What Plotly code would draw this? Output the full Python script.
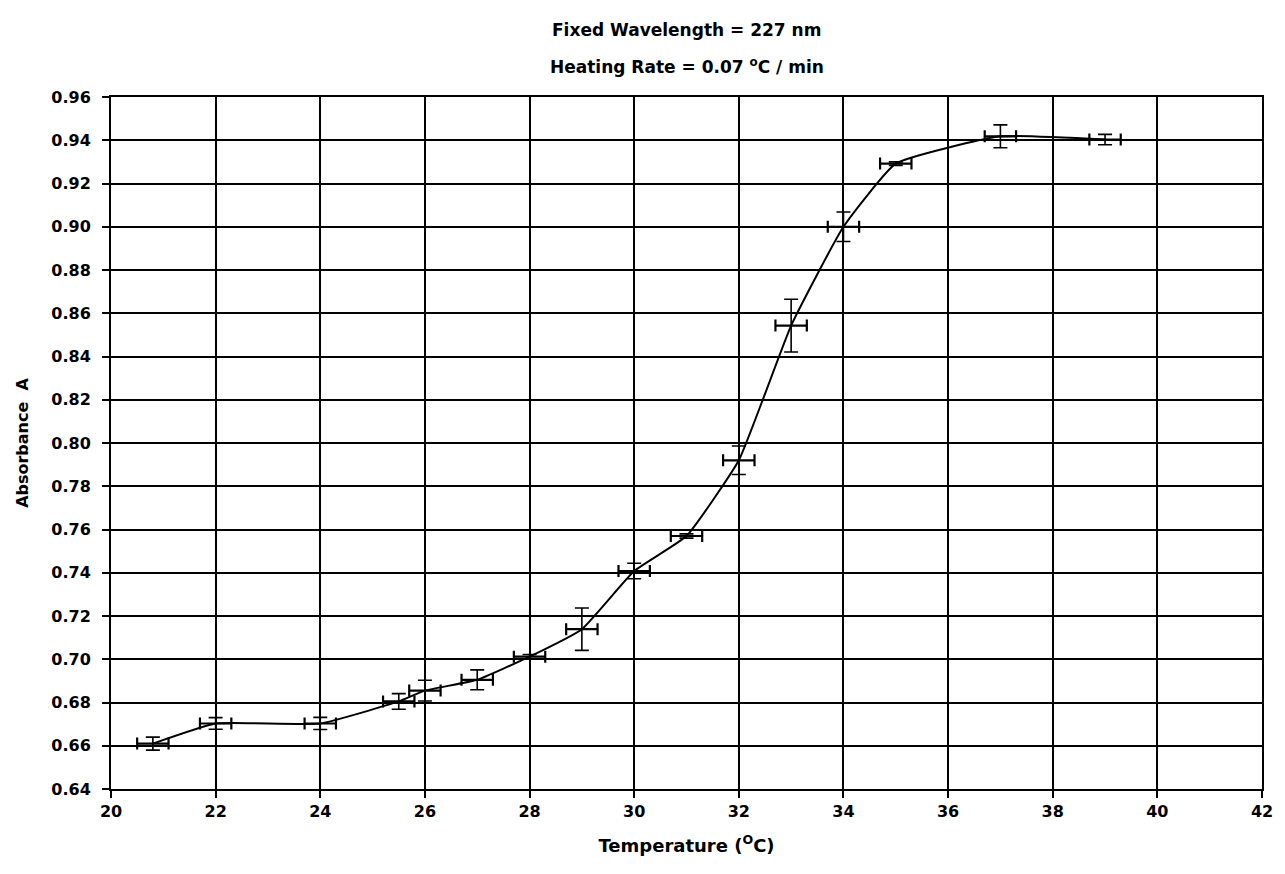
import plotly.graph_objects as go

temperature = [20.8, 22.0, 24.0, 25.5, 26.0, 27.0, 28.0, 29.0, 30.0, 31.0, 32.0, 33.0, 34.0, 35.0, 37.0, 39.0]
absorbance = [0.661, 0.6703, 0.6703, 0.6805, 0.6855, 0.6905, 0.7012, 0.7139, 0.7408, 0.757, 0.792, 0.8543, 0.900, 0.9292, 0.9418, 0.9403]
abs_err = [0.003, 0.0027, 0.0028, 0.0036, 0.0048, 0.0046, 0.001, 0.0098, 0.0036, 0.001, 0.0066, 0.0122, 0.0068, 0.0008, 0.0053, 0.0024]
temp_err = [0.3] * 16

title_lines = ["Fixed Wavelength = 227 nm", "Heating Rate = 0.07 <sup>o</sup>C / min"]

font_family = "DejaVu Sans, Verdana, sans-serif"

fig = go.Figure()
fig.add_trace(go.Scatter(
    x=temperature, y=absorbance, mode="lines",
    line=dict(color="black", width=2, shape="spline", smoothing=0.4),
    error_y=dict(type="data", array=abs_err, visible=True, color="black", thickness=1.6, width=7),
    error_x=dict(type="data", array=temp_err, visible=True, color="black", thickness=2.2, width=6),
    showlegend=False,
))

for txt, shift in zip(title_lines, [67, 31]):
    fig.add_annotation(
        text="<b>" + txt + "</b>", xref="paper", yref="paper", x=0.5, y=1,
        xanchor="center", yanchor="middle", yshift=shift, showarrow=False,
        font=dict(size=17, family=font_family, color="black"),
    )

fig.update_layout(
    width=1285, height=874,
    margin=dict(l=111, r=15, t=97, b=85),
    paper_bgcolor="white", plot_bgcolor="white",
    font=dict(family=font_family, color="black", size=16),
    xaxis=dict(
        range=[20, 42], dtick=2, tick0=20,
        showgrid=True, gridcolor="black", gridwidth=1.8,
        showline=True, linecolor="black", linewidth=2, mirror=True,
        ticks="outside", ticklen=7, tickcolor="black", tickwidth=1.5,
        tickfont=dict(size=16, family=font_family, color="black", weight="bold"),
        title=dict(text="<b>Temperature (<sup>O</sup>C)</b>", font=dict(size=18, family=font_family), standoff=19),
        zeroline=False,
    ),
    yaxis=dict(
        range=[0.64, 0.96], dtick=0.02, tick0=0.64, tickformat=".2f",
        showgrid=True, gridcolor="black", gridwidth=1.8,
        showline=True, linecolor="black", linewidth=2, mirror=True,
        ticks="outside", ticklen=7, tickcolor="black", tickwidth=1.5,
        ticklabelstandoff=8,
        tickfont=dict(size=16, family=font_family, color="black", weight="bold"),
        title=dict(text="<b>Absorbance  A</b>", font=dict(size=16, family=font_family), standoff=19),
        zeroline=False,
    ),
)

fig.write_html("out.html")
